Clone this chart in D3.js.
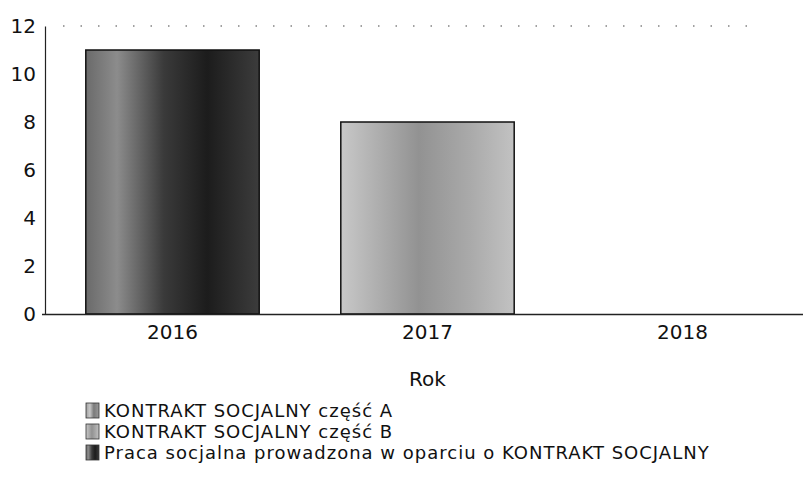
<!DOCTYPE html>
<html>
<head>
<meta charset="utf-8">
<script src="https://cdn.jsdelivr.net/npm/d3@7"></script>
<style>
  html, body { margin: 0; padding: 0; background: #fff; }
  svg { display: block; }
  text { font-family: "DejaVu Sans", Verdana, sans-serif; fill: #111; }
</style>
</head>
<body>
<svg id="chart" width="803" height="477"></svg>
<script>
// ---- data ----
const years = ["2016", "2017", "2018"];
const seriesNames = [
  "KONTRAKT SOCJALNY część A",
  "KONTRAKT SOCJALNY część B",
  "Praca socjalna prowadzona w oparciu o KONTRAKT SOCJALNY"
];
const seriesA = [0, 0, 0];
const seriesB = [0, 8, 0];
const seriesPraca = [11, 0, 0];
const yTicks = [0, 2, 4, 6, 8, 10, 12];
const xTitle = "Rok";

// ---- build ----
const svg = d3.select("#chart");
const margin = { left: 45, right: -7, top: 26, bottom: 163 };
const W = 803, H = 477;
const y0 = H - margin.bottom; // 314

const table = years.map((yr, i) => ({
  year: yr, s0: seriesA[i], s1: seriesB[i], s2: seriesPraca[i]
}));
const keys = ["s0", "s1", "s2"];
const stacked = d3.stack().keys(keys)(table);

const x = d3.scaleBand().domain(years)
  .range([margin.left, W - margin.right])
  .paddingInner(0.32).paddingOuter(0.16);
const y = d3.scaleLinear().domain([0, 12]).range([y0, margin.top]);

// gradients
const defs = svg.append("defs");
const grads = [
  { id: "gA", stops: [["0%", "#a0a0a0"], ["30%", "#c8c8c8"], ["60%", "#7a7a7a"], ["100%", "#9a9a9a"]] },
  { id: "gB", stops: [["0%", "#c8c8c8"], ["45%", "#929292"], ["75%", "#aaaaaa"], ["100%", "#c2c2c2"]] },
  { id: "gC", stops: [["0%", "#6a6a6a"], ["18%", "#8c8c8c"], ["45%", "#3a3a3a"], ["70%", "#1c1c1c"], ["100%", "#3c3c3c"]] }
];
grads.forEach(g => {
  const lg = defs.append("linearGradient").attr("id", g.id)
    .attr("x1", "0%").attr("x2", "100%").attr("y1", "0%").attr("y2", "0%");
  g.stops.forEach(s => lg.append("stop").attr("offset", s[0]).attr("stop-color", s[1]));
});
const fills = ["url(#gA)", "url(#gB)", "url(#gC)"];

// dotted gridline at top
svg.append("g")
  .selectAll("line").data([12]).join("line")
  .attr("x1", margin.left + 18).attr("x2", W - 40)
  .attr("y1", d => y(d)).attr("y2", d => y(d))
  .attr("stroke", "#444").attr("stroke-width", 1.2)
  .attr("stroke-dasharray", "1.5,16");

// bars
svg.append("g").selectAll("g").data(stacked).join("g")
  .attr("fill", (d, i) => fills[i])
  .selectAll("rect").data(d => d.filter(p => p[1] - p[0] > 0)).join("rect")
  .attr("x", d => x(d.data.year))
  .attr("width", x.bandwidth())
  .attr("y", d => y(d[1]))
  .attr("height", d => y(d[0]) - y(d[1]))
  .attr("stroke", "#111").attr("stroke-width", 1.5);

// y axis
const yAxis = svg.append("g").attr("transform", `translate(${margin.left},0)`)
  .call(d3.axisLeft(y).tickValues(yTicks).tickSize(0).tickPadding(9));
yAxis.select(".domain").attr("stroke", "#222").attr("stroke-width", 1.2);
yAxis.selectAll("text").style("font-size", "20px").attr("fill", "#111");

// x axis
const xAxis = svg.append("g").attr("transform", `translate(0,${y0})`)
  .call(d3.axisBottom(x).tickSize(0).tickPadding(11));
xAxis.select(".domain").attr("d", `M${margin.left - 3},0.5H${W}`).attr("stroke", "#222").attr("stroke-width", 1.5);
xAxis.selectAll("text").style("font-size", "20px").attr("fill", "#111");

// x title
svg.append("text").attr("x", x("2017") + x.bandwidth() / 2).attr("y", 386)
  .attr("text-anchor", "middle").style("font-size", "20px").text(xTitle);

// legend
const leg = svg.append("g").attr("transform", "translate(86,401)");
const items = leg.selectAll("g").data(seriesNames).join("g")
  .attr("transform", (d, i) => `translate(0,${i * 21})`);
items.append("rect").attr("y", 2).attr("width", 13).attr("height", 15)
  .attr("fill", (d, i) => fills[i]).attr("stroke", "#333").attr("stroke-width", 0.8);
items.append("text").attr("x", 18).attr("y", 16)
  .style("font-size", "18px").style("letter-spacing", "1px").text(d => d);
</script>
</body>
</html>
